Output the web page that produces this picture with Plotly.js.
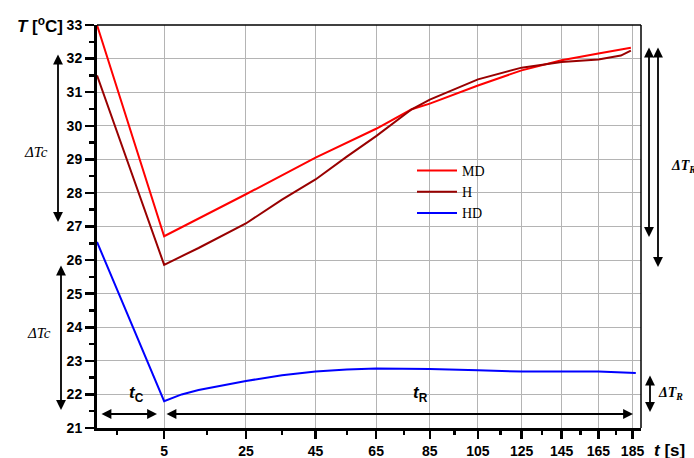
<!DOCTYPE html>
<html>
<head>
<meta charset="utf-8">
<script src="https://cdn.plot.ly/plotly-3.0.1.min.js"></script>
<style>html,body{margin:0;padding:0;background:#fff;}#chart{width:694px;height:458px;}</style>
</head>
<body>
<div id="chart"></div>
<script>
// time axis is drawn on a log scale of (t + OFFSET), matching the compressed axis of the original
const OFFSET = 100;
const X_TICKS = [5, 25, 45, 65, 85, 105, 125, 145, 165, 185];
const X_MINOR = [-5, 15, 35, 55, 75, 95, 115, 135, 155, 175];
const Y_TICKS = [21, 22, 23, 24, 25, 26, 27, 28, 29, 30, 31, 32, 33];
const Y_MINOR = [21.5, 22.5, 23.5, 24.5, 25.5, 26.5, 27.5, 28.5, 29.5, 30.5, 31.5, 32.5];

const T_MD = [-9, 5, 25, 45, 65, 78, 85, 105, 125, 145, 165, 184];
const Y_MD = [33.0, 26.71, 27.96, 29.05, 29.91, 30.49, 30.66, 31.20, 31.65, 31.95, 32.15, 32.32];

const T_H = [-9, 5, 13, 20, 25, 35, 45, 55, 65, 78, 85, 105, 125, 145, 165, 178, 184];
const Y_H = [31.50, 25.86, 26.36, 26.78, 27.09, 27.80, 28.40, 29.08, 29.69, 30.49, 30.78, 31.38, 31.73, 31.90, 31.97, 32.09, 32.24];

const T_HD = [-9, 5, 9, 13, 25, 35, 45, 55, 65, 85, 105, 125, 145, 165, 187];
const Y_HD = [26.54, 21.80, 22.00, 22.13, 22.40, 22.57, 22.68, 22.74, 22.77, 22.76, 22.72, 22.68, 22.68, 22.68, 22.64];

const SERIES = ['MD', 'H', 'HD'];
const COLORS = ['#ff0000', '#990000', '#0000ff'];

const sh = a => a.map(v => v + OFFSET);

const traces = [
  {x: sh(T_MD), y: Y_MD, name: SERIES[0], mode: 'lines', line: {color: COLORS[0], width: 2}},
  {x: sh(T_H), y: Y_H, name: SERIES[1], mode: 'lines', line: {color: COLORS[1], width: 2}},
  {x: sh(T_HD), y: Y_HD, name: SERIES[2], mode: 'lines', line: {color: COLORS[2], width: 2}}
];

const L = 97, T = 25, W = 544, H = 403;
const px = v => (v - L) / W;
const py = v => (T + H - v) / H;

function vArrow(x, top, bot) {
  return {xref: 'paper', yref: 'paper', x: px(x), y: py(bot), ax: 0, ay: -(bot - top),
    text: '', showarrow: true, arrowside: 'end+start', arrowhead: 2, arrowsize: 1.1,
    arrowwidth: 1.8, arrowcolor: 'black', standoff: 0, startstandoff: 0};
}
function hArrow(y, left, right) {
  return {xref: 'paper', yref: 'paper', x: px(right), y: py(y), ax: -(right - left), ay: 0,
    text: '', showarrow: true, arrowside: 'end+start', arrowhead: 2, arrowsize: 1.1,
    arrowwidth: 1.8, arrowcolor: 'black', standoff: 0, startstandoff: 0};
}
function label(text, x, y, xanchor, font) {
  return {xref: 'paper', yref: 'paper', x: px(x), y: py(y), xanchor: xanchor, yanchor: 'middle',
    text: text, showarrow: false, font: font};
}
const sansB = {family: 'Liberation Sans, Arial, sans-serif', size: 17, color: 'black'};
const serifI = {family: 'Liberation Serif, Times New Roman, serif', size: 15, color: 'black'};
const serifR = {family: 'Liberation Serif, Times New Roman, serif', size: 14, color: 'black'};

const annotations = [
  vArrow(58, 53, 222),
  vArrow(61, 264, 410),
  vArrow(649, 46, 237),
  vArrow(658, 46, 267),
  vArrow(650, 374, 412),
  hArrow(414, 100, 157),
  hArrow(414, 165, 633),
  label('<i>ΔTc</i>', 22, 152, 'left', serifI),
  label('<i>ΔTc</i>', 25, 333, 'left', serifI),
  label('<b><i>ΔT<sub>R</sub></i></b>', 669, 166, 'left', serifR),
  label('<b><i>ΔT<sub>R</sub></i></b>', 656, 393, 'left', serifR),
  label('<b><i>t</i><sub>C</sub></b>', 127, 394, 'left', sansB),
  label('<b><i>t</i><sub>R</sub></b>', 411, 394, 'left', sansB),
  label('<b><i>T</i> [<sup>o</sup>C]</b>', 15, 25, 'left', sansB),
  label('<b><i>t</i> [s]</b>', 652, 450, 'left', sansB)
];

const tickFont = {family: 'Liberation Sans, Arial, sans-serif', size: 14, color: 'black', weight: 'bold'};

const layout = {
  width: 694, height: 458,
  margin: {l: L, r: 694 - L - W, t: T, b: 458 - T - H},
  paper_bgcolor: 'white', plot_bgcolor: 'white',
  showlegend: true,
  legend: {x: px(412), y: py(155), xanchor: 'left', yanchor: 'top', bgcolor: 'rgba(255,255,255,0)',
    borderwidth: 0, font: serifR, tracegroupgap: 0, itemwidth: 40},
  xaxis: {
    type: 'log',
    range: [Math.log10(-9 + OFFSET), Math.log10(190.2 + OFFSET)],
    tickmode: 'array', tickvals: sh(X_TICKS), ticktext: X_TICKS.map(String),
    ticks: 'outside', ticklen: 8, tickwidth: 2.5, tickcolor: 'black',
    tickfont: tickFont,
    showgrid: true, gridcolor: '#b4b4b4', gridwidth: 1,
    showline: true, linecolor: 'black', linewidth: 3, zeroline: false,
    minor: {tickmode: 'array', tickvals: sh(X_MINOR), ticks: 'outside', ticklen: 4, tickwidth: 2.5, tickcolor: 'black', showgrid: false}
  },
  yaxis: {
    range: [21, 33],
    tickmode: 'array', tickvals: Y_TICKS, ticktext: Y_TICKS.map(String),
    ticks: 'outside', ticklen: 9, tickwidth: 2.5, tickcolor: 'black',
    tickfont: tickFont,
    showgrid: true, gridcolor: '#b4b4b4', gridwidth: 1,
    showline: true, linecolor: 'black', linewidth: 3, zeroline: false,
    minor: {tickmode: 'array', tickvals: Y_MINOR, ticks: 'outside', ticklen: 5, tickwidth: 2.5, tickcolor: 'black', showgrid: false}
  },
  shapes: [
    {type: 'rect', xref: 'paper', yref: 'paper', x0: px(400), x1: px(627), y0: py(224), y1: py(152),
      fillcolor: 'white', line: {width: 0}, layer: 'between'},
    {type: 'line', xref: 'paper', yref: 'paper', x0: 0, x1: 1, y0: 1, y1: 1, line: {color: 'black', width: 1.5}},
    {type: 'line', xref: 'paper', yref: 'paper', x0: 1, x1: 1, y0: 0, y1: 1, line: {color: 'black', width: 1.5}}
  ],
  annotations: annotations
};

Plotly.newPlot('chart', traces, layout, {displayModeBar: false, staticPlot: true});
</script>
</body>
</html>
